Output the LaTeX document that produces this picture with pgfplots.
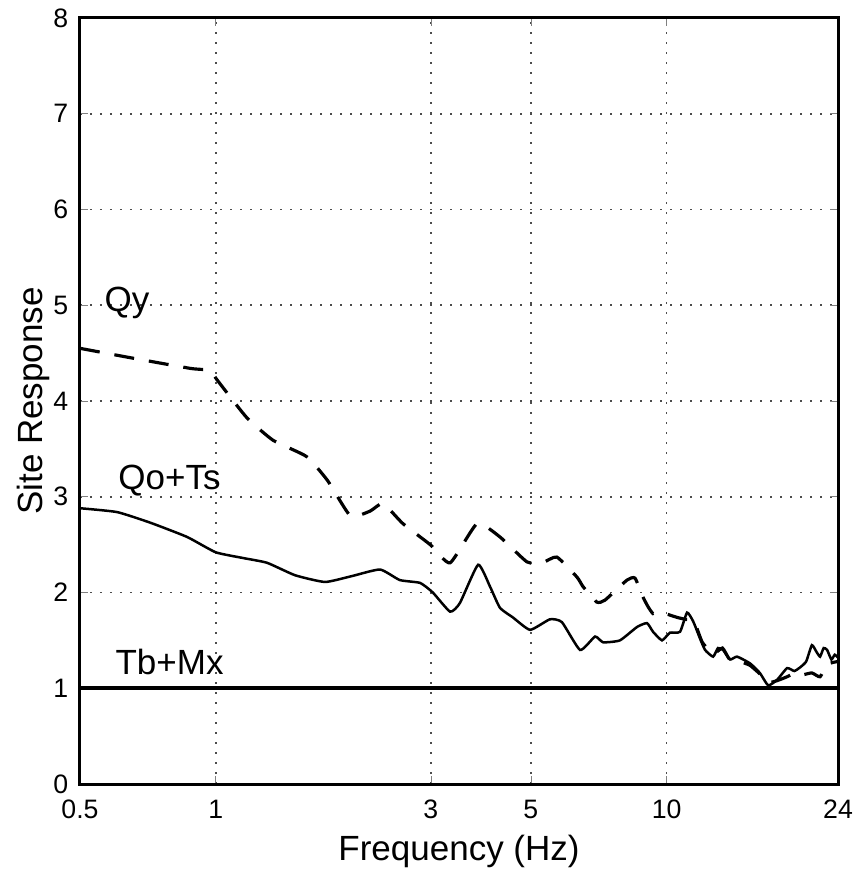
\documentclass[border=0pt]{standalone}
\usepackage{pgfplots}
\pgfplotsset{compat=1.18}
\usepackage{fontspec}
\setmainfont{Liberation Sans}
\begin{document}
\begin{tikzpicture}
\begin{axis}[
  scale only axis,
  width=227.4pt, height=229.8pt,
  xmode=log,
  xmin=0.5, xmax=24, ymin=0, ymax=8,
  xtick={0.5,1,3,5,10,24},
  xticklabels={0.5,1,3,5,10,24},
  ytick={0,1,2,3,4,5,6,7,8},
  minor xtick={},
  log ticks with fixed point,
  /pgf/number format/assume math mode=true,
  tick label style={font=\fontsize{8}{9}\selectfont},
  xticklabel style={yshift=-1.2pt},
  tick align=inside,
  major tick length=2.5pt,
  grid=major,
  major grid style={black!70, line width=0.5pt, dash pattern=on 0.6pt off 2.4pt},
  axis line style={line width=0.9pt},
  xlabel={Frequency (Hz)},
  ylabel={Site Response},
  label style={font=\fontsize{10.5}{12}\selectfont},
  xlabel style={yshift=2pt},
  ylabel style={yshift=-5.8pt},
  clip=true,
]
% Tb+Mx reference
\addplot[black, line width=1.3pt] coordinates {(0.5,1) (24,1)};
% Qo+Ts (solid)
\addplot[black, line width=0.75pt, smooth, tension=0.3] coordinates {
(0.5,2.88) (0.604,2.84) (0.715,2.73) (0.864,2.58) (1.0,2.42) (1.15,2.36) (1.30,2.31)
(1.5,2.18) (1.747,2.11) (2.0,2.17) (2.314,2.24) (2.56,2.13) (2.84,2.10) (3.03,2.0)
(3.31,1.80) (3.48,1.89) (3.82,2.29) (4.06,2.06) (4.27,1.84) (4.56,1.74) (4.98,1.61)
(5.51,1.72) (5.86,1.69) (6.43,1.40) (6.94,1.54) (7.23,1.48) (7.88,1.50) (8.60,1.64)
(9.05,1.68) (9.33,1.59) (9.77,1.50) (10.17,1.58) (10.71,1.59) (11.1,1.79) (11.45,1.70)
(11.86,1.52) (12.17,1.40) (12.68,1.33) (13.0,1.42) (13.34,1.40) (13.83,1.30) (14.33,1.33)
(15.31,1.26) (16.1,1.16) (16.8,1.03) (17.6,1.09) (18.5,1.21) (19.2,1.18) (19.8,1.22)
(20.4,1.28) (21.0,1.45) (21.5,1.38) (21.9,1.33) (22.3,1.42) (22.7,1.40) (23.2,1.30) (23.6,1.35) (24,1.32)
};
% Qy (dashed)
\addplot[black, line width=0.95pt, dash pattern=on 6pt off 4.5pt, smooth, tension=0.3] coordinates {
(0.5,4.55) (0.65,4.45) (0.88,4.34) (0.97,4.32) (1.007,4.22) (1.17,3.83) (1.34,3.59)
(1.59,3.42) (1.77,3.17) (1.99,2.80) (2.2,2.85) (2.35,2.93) (2.60,2.72) (2.99,2.50)
(3.31,2.31) (3.80,2.72) (4.27,2.58) (4.90,2.32) (5.3,2.31) (5.71,2.37) (6.33,2.16)
(6.53,2.06) (7.0,1.90) (7.30,1.92) (8.17,2.13) (8.51,2.15) (8.87,1.95) (9.1,1.85)
(9.33,1.78) (9.6,1.80) (10.55,1.74) (11.0,1.72) (11.5,1.70) (12.0,1.48) (12.7,1.36)
(13.3,1.42) (13.8,1.30) (14.5,1.28) (15.3,1.24) (16.1,1.15) (16.8,1.06) (17.6,1.08)
(18.5,1.12) (19.3,1.16) (20.0,1.14) (21.0,1.16) (21.9,1.12) (22.7,1.25) (24,1.28)
};
\node[font=\fontsize{10.5}{12}\selectfont] at (axis cs:0.636,5.02) {Qy};
\node[font=\fontsize{10.5}{12}\selectfont] at (axis cs:0.79,3.17) {Qo+Ts};
\node[font=\fontsize{10.5}{12}\selectfont] at (axis cs:0.79,1.27) {Tb+Mx};
\end{axis}
\pgfresetboundingbox
\path[use as bounding box] ([xshift=-24pt,yshift=-25.5pt]current axis.south west) rectangle ([xshift=4.8pt,yshift=5.4pt]current axis.north east);
\end{tikzpicture}
\end{document}
